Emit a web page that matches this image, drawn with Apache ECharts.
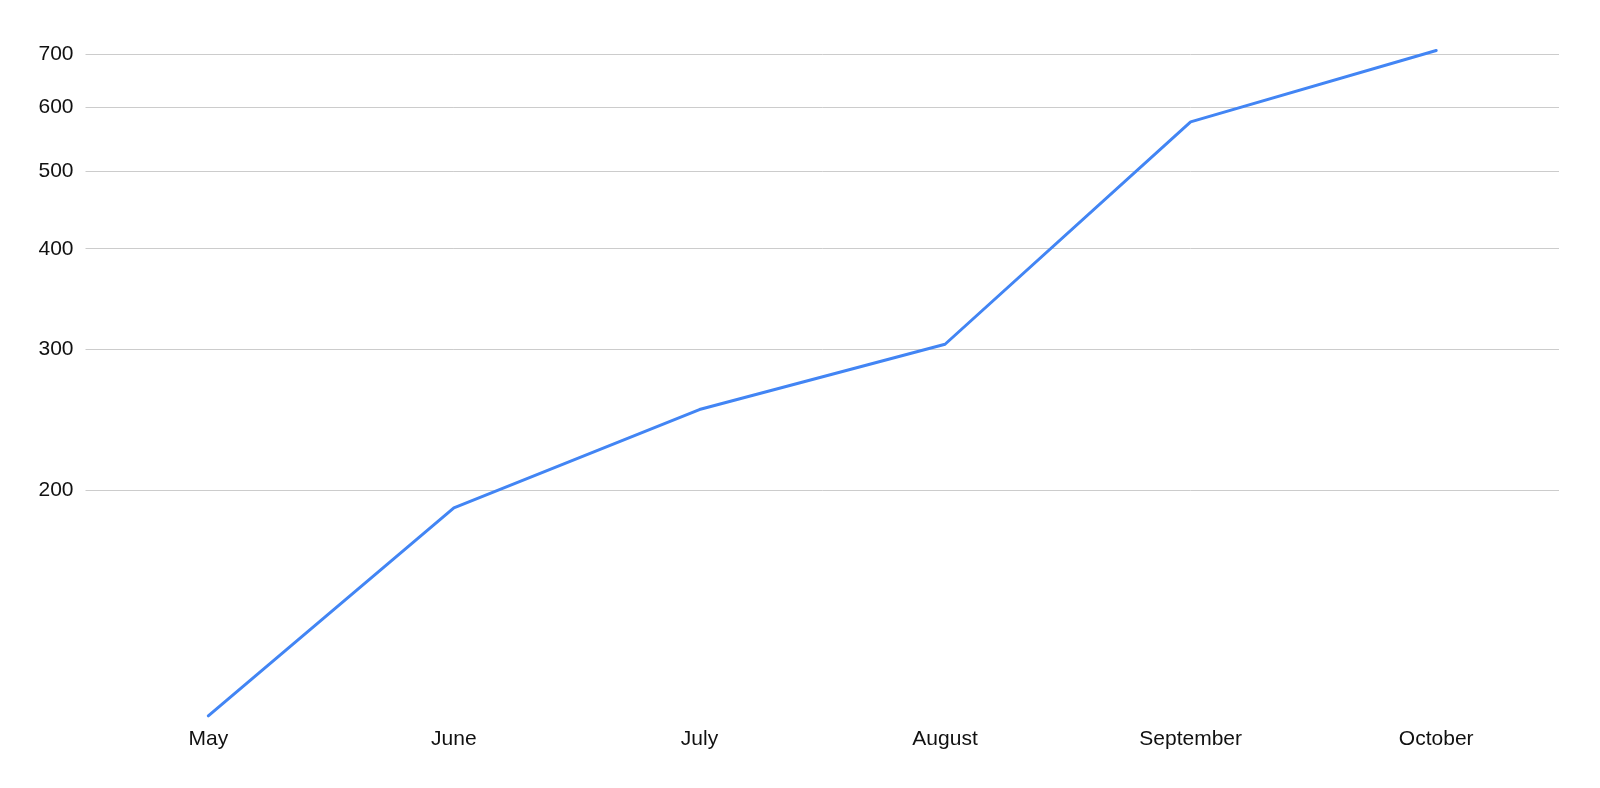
<!DOCTYPE html>
<html>
<head>
<meta charset="utf-8">
<script src="https://cdn.jsdelivr.net/npm/echarts@6/dist/echarts.min.js"></script>
<style>
  html, body { margin: 0; padding: 0; background: #ffffff; }
  #chart { width: 1600px; height: 788px; }
</style>
</head>
<body>
<div id="chart"></div>
<script>
const categories = ['May', 'June', 'July', 'August', 'September', 'October'];
const values = [104.5, 190, 252, 304, 576, 707];
const yTicks = [200, 300, 400, 500, 600, 700];
const yMin = 103;
const yMax = 800;

const chart = echarts.init(document.getElementById('chart'), null, { renderer: 'canvas' });
chart.setOption({
  animation: false,
  backgroundColor: '#ffffff',
  grid: { left: 85.5, right: 41, top: 7.5, bottom: 67.1, containLabel: false },
  xAxis: {
    type: 'category',
    data: categories,
    boundaryGap: true,
    axisLine: { show: false },
    axisTick: { show: false },
    splitLine: { show: false },
    axisLabel: {
      color: '#111111',
      fontFamily: 'Liberation Sans, Arial, sans-serif',
      fontSize: 21,
      margin: 8
    }
  },
  yAxis: {
    type: 'log',
    logBase: 10,
    min: yMin,
    max: yMax,
    axisLine: { show: false },
    axisTick: { show: false, customValues: yTicks },
    axisLabel: {
      customValues: yTicks,
      color: '#111111',
      fontFamily: 'Liberation Sans, Arial, sans-serif',
      fontSize: 21,
      margin: 12
    },
    splitLine: { show: true, lineStyle: { color: '#cccccc', width: 1 } }
  },
  series: [{
    type: 'line',
    data: values,
    showSymbol: false,
    symbol: 'none',
    lineStyle: { color: '#4285F4', width: 3, cap: 'round', join: 'round' },
    itemStyle: { color: '#4285F4' }
  }]
});
</script>
</body>
</html>
